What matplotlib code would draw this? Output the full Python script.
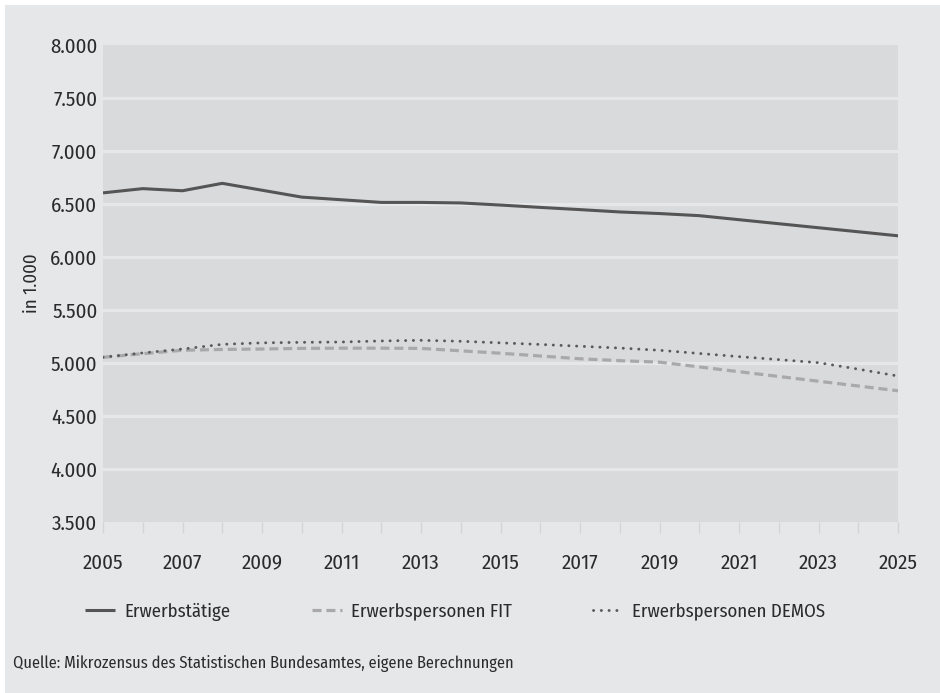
import matplotlib
matplotlib.use('Agg')
import matplotlib.pyplot as plt
from matplotlib.patches import Rectangle

plt.rcParams['font.family'] = ['Fira Sans Condensed', 'Barlow Semi Condensed', 'DejaVu Sans']
plt.rcParams['lines.scale_dashes'] = False

years = list(range(2005, 2026))
erwerbstaetige = [6605, 6645, 6625, 6695, 6630, 6565, 6540, 6515, 6515, 6510, 6490,
                  6468, 6447, 6425, 6410, 6390, 6352, 6314, 6276, 6238, 6200]
personen_fit = [5054, 5088, 5120, 5128, 5132, 5138, 5140, 5140, 5138, 5115, 5092,
                5066, 5040, 5022, 5008, 4963, 4918, 4873, 4828, 4783, 4738]
personen_demos = [5054, 5095, 5132, 5176, 5190, 5195, 5198, 5208, 5214, 5205, 5190,
                  5175, 5158, 5141, 5120, 5090, 5060, 5032, 5003, 4942, 4877]
series_labels = ['Erwerbstätige', 'Erwerbspersonen FIT', 'Erwerbspersonen DEMOS']
y_ticks = list(range(3500, 8001, 500))
x_label_years = list(range(2005, 2026, 2))

PANEL = '#e6e7e9'
PLOT_BG = '#d9dadc'
TEXT = '#2b2b2b'

fig = plt.figure(figsize=(9.4, 6.93), dpi=100, facecolor='white')
fig.patches.append(Rectangle((5 / 940, 0), 1, 1 - 5 / 693, transform=fig.transFigure,
                             facecolor=PANEL, edgecolor='none', zorder=-10))

ax = fig.add_axes([103 / 940, 1 - 522 / 693, 795 / 940, 477 / 693])
ax.set_facecolor(PLOT_BG)
for s in ax.spines.values():
    s.set_visible(False)

# light gridlines only inside the plot area
for v in y_ticks[1:-1]:
    ax.axhline(v, color=PANEL, lw=2.3, zorder=1)

ax.plot(years, erwerbstaetige, color='#555555', lw=2.2, solid_capstyle='butt',
        label=series_labels[0], zorder=3)
ax.plot(years, personen_fit, color='#a9a9ab', lw=2.3, dashes=(6.5, 3.5),
        label=series_labels[1], zorder=3)
ax.plot(years, personen_demos, color='#5a5a5c', lw=2.1, dashes=(0.1, 5.5),
        dash_capstyle='round', label=series_labels[2], zorder=3)

ax.set_xlim(2005, 2025)
ax.set_ylim(3500, 8000)
ax.set_yticks(y_ticks)
ax.set_yticklabels([f'{v:,}'.replace(',', '.') for v in y_ticks])
ax.set_xticks(years)
ax.set_xticklabels([str(y) if y in x_label_years else '' for y in years])
ax.tick_params(axis='y', length=0, pad=4, labelsize=15, labelcolor=TEXT)
ax.tick_params(axis='x', length=8, width=1, color='#d3d4d6', pad=25.5,
               labelsize=15, labelcolor=TEXT)
# same baseline for all year labels
for lbl in ax.get_xticklabels():
    lbl.set_verticalalignment('baseline')
ax.set_ylabel('in 1.000', fontsize=13.5, color=TEXT, labelpad=7)

handles, labels = ax.get_legend_handles_labels()
fig.legend(handles, labels, loc='center left', bbox_to_anchor=(85 / 940, 1 - 612 / 693),
           ncol=3, frameon=False, fontsize=13.5, handlelength=1.6, handletextpad=0.48,
           columnspacing=4.35, borderpad=0, borderaxespad=0, labelcolor=TEXT)

fig.text(13 / 940, 1 - 663 / 693,
         'Quelle: Mikrozensus des Statistischen Bundesamtes, eigene Berechnungen',
         fontsize=11.8, color=TEXT, va='center', ha='left')

fig.savefig('out.png', dpi=100, facecolor='white')
